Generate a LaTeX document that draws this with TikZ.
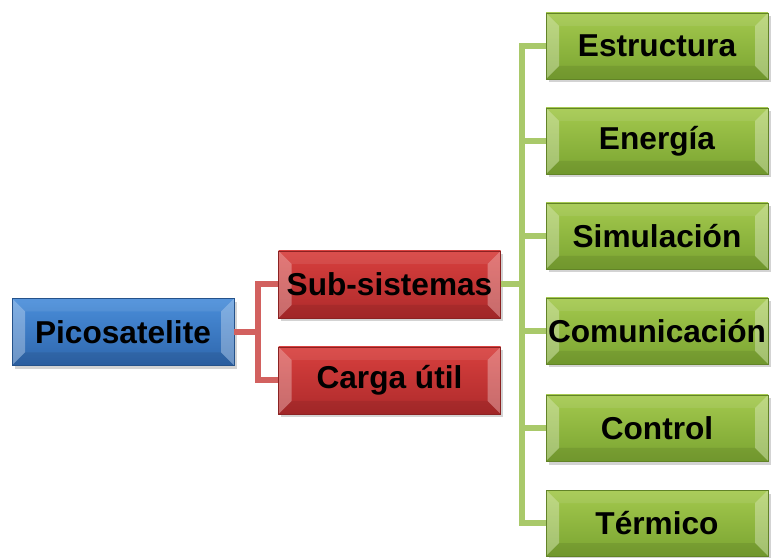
\documentclass[tikz,border=0pt]{standalone}
\usepackage{fontspec}
\setmainfont{Liberation Sans}
\usetikzlibrary{shadows,calc}

\definecolor{bluetop}{HTML}{4A8EDA}
\definecolor{bluebot}{HTML}{2E66AC}
\definecolor{redtop}{HTML}{D8403E}
\definecolor{redbot}{HTML}{AE2A2B}
\definecolor{greentop}{HTML}{A4C94E}
\definecolor{greenbot}{HTML}{7AA431}
\definecolor{redline}{HTML}{D2615F}
\definecolor{greenline}{HTML}{A9C96A}

\tikzset{
  box/.style={draw=#1bot!80!black, top color=#1top, bottom color=#1bot,
    minimum width=4.44cm, minimum height=1.34cm, inner sep=0pt,
    font=\fontsize{18}{20}\selectfont\bfseries,
    drop shadow={opacity=.35, shadow xshift=.05cm, shadow yshift=-.07cm},
    path picture={
      \fill[white,opacity=.3] (path picture bounding box.north west) -- ++(0.26,-0.26)
        -- ($(path picture bounding box.south west)+(0.26,0.26)$)
        -- (path picture bounding box.south west) -- cycle;
      \fill[white,opacity=.3] (path picture bounding box.north east) -- ++(-0.26,-0.26)
        -- ($(path picture bounding box.south east)+(-0.26,0.26)$)
        -- (path picture bounding box.south east) -- cycle;
      \fill[white,opacity=.08] (path picture bounding box.north west) -- ++(0.26,-0.26)
        -- ($(path picture bounding box.north east)+(-0.26,-0.26)$)
        -- (path picture bounding box.north east) -- cycle;
      \fill[black,opacity=.08] (path picture bounding box.south west) -- ++(0.26,0.26)
        -- ($(path picture bounding box.south east)+(-0.26,0.26)$)
        -- (path picture bounding box.south east) -- cycle;
    }},
  bluebox/.style={box=blue},
  redbox/.style={box=red},
  greenbox/.style={box=green, minimum height=1.32cm},
  rline/.style={redline, line width=0.12cm},
  gline/.style={greenline, line width=0.12cm}
}

\begin{document}
\begin{tikzpicture}
  \useasboundingbox (0,0) rectangle (15.5,11.14);

  %root
  \node[bluebox] (pico) at (2.46,4.5) {Picosatelite};

  %second level
  \node[redbox] (sub) at (7.79,5.45) {Sub-sistemas};
  \node[redbox] (carga) at (7.79,3.53) {Carga útil};

  %sub-systems
  \node[greenbox] (estr) at (13.14,10.22) {Estructura};
  \node[greenbox] (ener) at (13.14,8.32) {Energía};
  \node[greenbox] (simu) at (13.14,6.42) {Simulación};
  \node[greenbox] (comu) at (13.14,4.52) {Comunicación};
  \node[greenbox] (ctrl) at (13.14,2.58) {Control};
  \node[greenbox] (term) at (13.14,0.68) {Térmico};

  %red connectors
  \coordinate (rj) at (5.16,4.5);
  \draw[rline] (pico.east) -- (rj);
  \draw[rline] (rj) |- (sub.west);
  \draw[rline] (rj) |- (carga.west);

  %green connectors
  \coordinate (gj) at (10.44,5.45);
  \draw[gline] (sub.east) -- (gj);
  \foreach \n in {estr,ener,simu,comu,ctrl,term}
    \draw[gline] (gj) |- (\n.west);

\end{tikzpicture}
\end{document}
